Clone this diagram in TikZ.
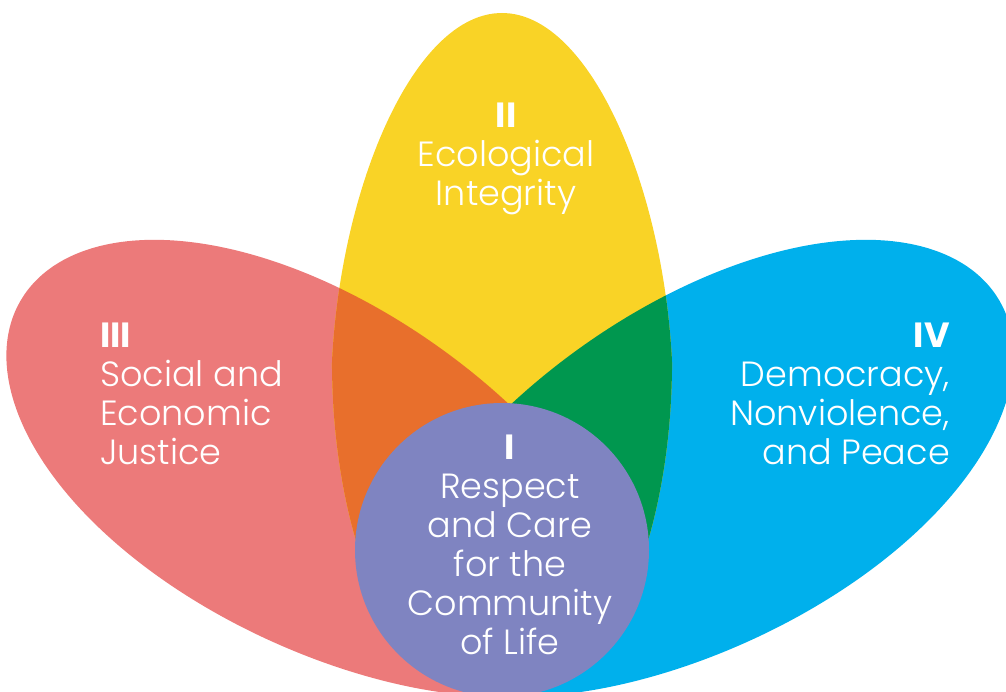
\documentclass[tikz,border=0pt]{standalone}
\usepackage{fontspec}
\setmainfont{Poppins}[UprightFont=* Light, BoldFont=* Bold]
\usepackage{tikz}

\definecolor{petalred}{HTML}{EC7A7A}
\definecolor{petalyellow}{HTML}{F9D326}
\definecolor{petalblue}{HTML}{00B0EC}
\definecolor{petalorange}{HTML}{E86F2C}
\definecolor{petalgreen}{HTML}{00974F}
\definecolor{corepurple}{HTML}{7F84C1}

% egg shaped petals, blunt end outward
\newcommand{\yellowpetal}{[shift={(502,362)}] plot[domain=0:360, samples=121, smooth]
  ({170*sin(\x)*(1-0.1*max(cos(\x),0))}, {-349*cos(\x)}) -- cycle}
\newcommand{\redpetal}{[shift={(320,474)}, rotate=-30] plot[domain=0:360, samples=121, smooth]
  ({-346*cos(\x)}, {172*sin(\x)*(1+0.08*cos(\x))}) -- cycle}
\newcommand{\bluepetal}{[shift={(700,474)}, rotate=30] plot[domain=0:360, samples=121, smooth]
  ({346*cos(\x)}, {172*sin(\x)*(1+0.08*cos(\x))}) -- cycle}

\begin{document}
\begin{tikzpicture}[x=1pt, y=-1pt,
    label/.style={text=white, inner sep=0pt, font=\fontsize{35}{39}\selectfont}]
  \useasboundingbox (0,0) rectangle (1006,692);
  \clip (0,0) rectangle (1006,692);
  % petals, narrow ends end under the core
  \begin{scope}
    \clip (0,0) rectangle (545,692);
    \fill[petalred] \redpetal;
  \end{scope}
  \begin{scope}
    \clip (465,0) rectangle (1006,692);
    \fill[petalblue] \bluepetal;
  \end{scope}
  \begin{scope}
    \clip (0,0) rectangle (1006,610);
    \fill[petalyellow] \yellowpetal;
    % overlaps
    \clip \yellowpetal;
    \fill[petalorange] \redpetal;
    \fill[petalgreen] \bluepetal;
  \end{scope}
  \node[circle, fill=corepurple, minimum size=294pt, inner sep=0pt] (core) at (502,550) {};
  \node[label, align=center, anchor=base] (corelabel) at (510,654)
    {\textbf{I}\\Respect\\and Care\\for the\\Community\\of Life};
  \node[label, align=center, anchor=base] (eco) at (506,206)
    {\textbf{II}\\Ecological\\Integrity};
  \node[label, align=left, anchor=base west] (social) at (100,464)
    {\textbf{III}\\Social and\\Economic\\Justice};
  \node[label, align=right, anchor=base east] (peace) at (950,464)
    {\textbf{IV}\\Democracy,\\Nonviolence,\\and Peace};
\end{tikzpicture}
\end{document}
